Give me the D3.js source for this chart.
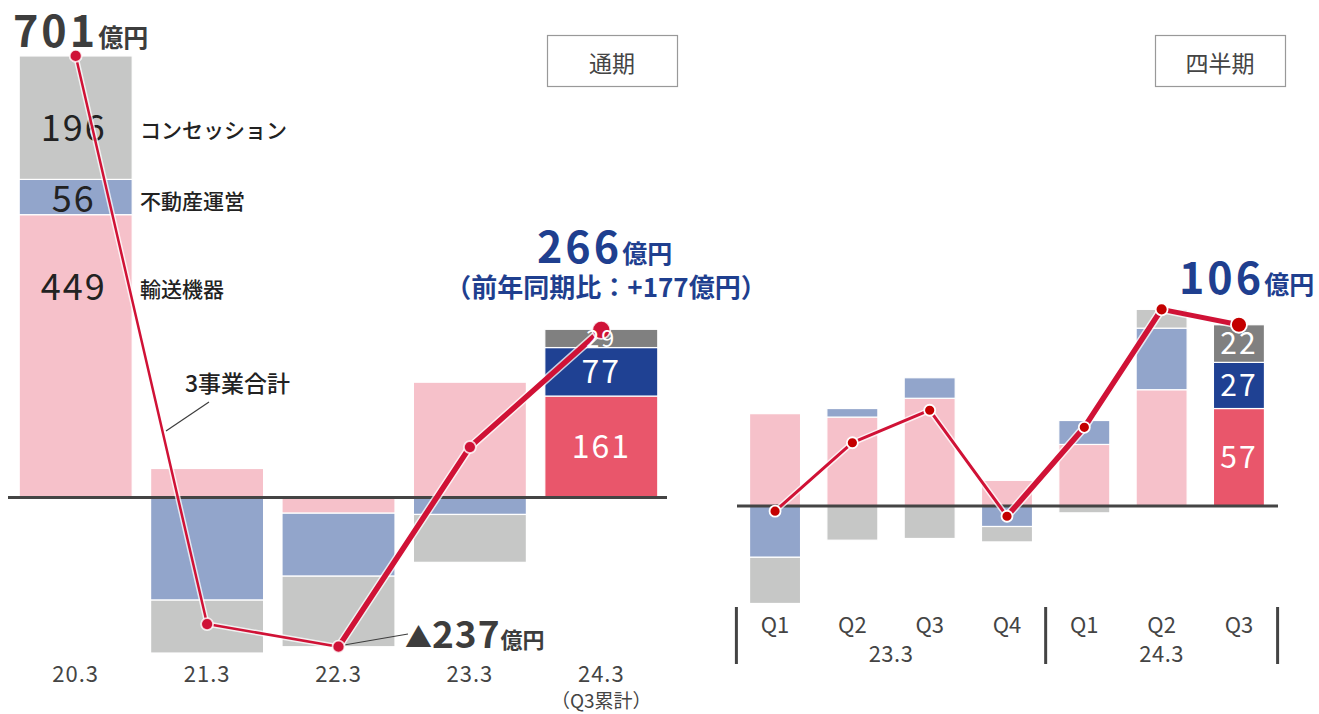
<!DOCTYPE html>
<html>
<head>
<meta charset="utf-8">
<script src="https://cdn.jsdelivr.net/npm/d3@7"></script>
<style>
  body { margin: 0; background: #fff; }
  svg { display: block; }
  text { font-family: "Noto Sans CJK JP", "Noto Sans", sans-serif; }
</style>
</head>
<body>
<svg id="chart" width="1319" height="714"></svg>
<script>
// ---- Annual results (億円) ----
const annualCategories = ["20.3", "21.3", "22.3", "23.3", "24.3"];
const annualTransport   = [449, 46, -25, 183, 161];
const annualRealEstate  = [56, -163, -100, -27, 77];
const annualConcession  = [196, -84, -112, -76, 29];
const annualTotal       = [701, -201, -237, 80, 266];
const priorYearSamePeriod = 89;

// ---- Quarterly results (億円) ----
const quarterCategories = ["23.3 Q1", "23.3 Q2", "23.3 Q3", "23.3 Q4", "24.3 Q1", "24.3 Q2", "24.3 Q3"];
const quarterTickLabels = ["Q1", "Q2", "Q3", "Q4", "Q1", "Q2", "Q3"];
const quarterTransport  = [54, 52, 63, 15, 36, 68, 57];
const quarterRealEstate = [-30, 5, 12, -12, 14, 36, 27];
const quarterConcession = [-27, -20, -19, -9, -4, 11, 22];
const quarterTotal      = [-3, 37, 56, -6, 46, 115, 106];
const fiscalYearLabels  = ["23.3", "24.3"];

const segmentKeys  = ["transport", "realEstate", "concession"];
const segmentNames = ["輸送機器", "不動産運営", "コンセッション"];

const paleColor   = { transport: "#f6c1ca", realEstate: "#92a5cb", concession: "#c6c7c6" };
const strongColor = { transport: "#e9566b", realEstate: "#1f4193", concession: "#808080" };
const lineColor = "#d01236";
const ink = "#3d3d3d";
const navy = "#1f3f8f";

const svg = d3.select("#chart");

function buildRows(cats, t, r, c) {
  return cats.map((cat, i) => ({ cat, transport: t[i], realEstate: r[i], concession: c[i] }));
}

const stack = d3.stack().keys(segmentKeys).offset(d3.stackOffsetDiverging);

function drawBars(g, rows, x, y) {
  const series = stack(rows);
  const last = rows.length - 1;
  g.selectAll("g.series").data(series).join("g").attr("class", "series")
    .each(function (s) {
      d3.select(this).selectAll("rect").data(s).join("rect")
        .attr("x", d => x(d.data.cat))
        .attr("width", x.bandwidth())
        .attr("y", d => y(Math.max(d[0], d[1])))
        .attr("height", d => Math.abs(y(d[0]) - y(d[1])))
        .attr("fill", (d, i) => (i === last ? strongColor : paleColor)[s.key])
        .attr("stroke", "#fff")
        .attr("stroke-width", 1.2);
    });
  return series;
}

// value labels inside a highlighted bar; the font shrinks to fit a short segment
function drawSegmentLabels(g, series, idx, x, y, maxSize) {
  series.forEach(s => {
    const d = s[idx];
    const h = Math.abs(y(d[0]) - y(d[1]));
    const size = Math.min(maxSize, (h - 1) / 0.74);
    g.append("text")
      .attr("x", x(d.data.cat) + x.bandwidth() / 2)
      .attr("y", (y(d[0]) + y(d[1])) / 2)
      .attr("dy", "0.36em").attr("text-anchor", "middle")
      .attr("font-size", size).attr("letter-spacing", 2).attr("fill", "#fff")
      .text(d.data[s.key]);
  });
}

function drawTotalLine(g, cats, totals, x, y, widths, radii, dotFill, dotStroke) {
  const pts = cats.map((c, i) => [x(c) + x.bandwidth() / 2, y(totals[i])]);
  const line = d3.line();
  // soft white halo under the line
  for (let i = 0; i < pts.length - 1; i++) {
    g.append("path").attr("d", line([pts[i], pts[i + 1]]))
      .attr("fill", "none").attr("stroke", "#fff").attr("stroke-opacity", 0.75)
      .attr("stroke-width", widths[i] + 3).attr("stroke-linecap", "round");
  }
  for (let i = 0; i < pts.length - 1; i++) {
    g.append("path").attr("d", line([pts[i], pts[i + 1]]))
      .attr("fill", "none").attr("stroke", lineColor)
      .attr("stroke-width", widths[i]).attr("stroke-linecap", "round");
  }
  g.selectAll("circle.dot").data(pts).join("circle").attr("class", "dot")
    .attr("cx", d => d[0]).attr("cy", d => d[1])
    .attr("r", (d, i) => radii[i])
    .attr("fill", dotFill).attr("stroke", dotStroke).attr("stroke-width", 1.8);
  return pts;
}

// ================= Annual panel =================
const xL = d3.scaleBand().domain(annualCategories).range([10, 667]).paddingInner(0.14).paddingOuter(0.07);
const yL = d3.scaleLinear().domain([-300, 750]).range([686.4, 25.1]);
const gL = svg.append("g");
const annualRows = buildRows(annualCategories, annualTransport, annualRealEstate, annualConcession);
const annualSeries = drawBars(gL, annualRows, xL, yL);

gL.append("line").attr("x1", 8).attr("x2", 667).attr("y1", yL(0)).attr("y2", yL(0))
  .attr("stroke", "#444").attr("stroke-width", 3);

// segment values inside the first bar, with segment names beside it
const firstCx = xL(annualCategories[0]) + xL.bandwidth() / 2 - 2;
const firstLabelY = [300, 212, 141];
segmentKeys.forEach((k, i) => {
  const v = annualRows[0][k];
  gL.append("text").attr("x", firstCx).attr("y", firstLabelY[i])
    .attr("text-anchor", "middle").attr("font-size", 36).attr("letter-spacing", 2)
    .attr("fill", "#222").text(v);
  gL.append("text").attr("x", 140).attr("y", firstLabelY[i] - 3)
    .attr("font-size", 21).attr("font-weight", 500).attr("fill", "#222").text(segmentNames[i]);
});

const lastIdx = annualCategories.length - 1;

const ptsL = drawTotalLine(gL, annualCategories, annualTotal, xL, yL,
  [2.5, 2.5, 5.5, 5.5], [6, 6, 6, 6, 9], "#cf1237", "rgba(255,255,255,0.8)");

drawSegmentLabels(gL, annualSeries, lastIdx, xL, yL, 32);

// category axis
const axL = gL.append("g").attr("transform", "translate(0,666)")
  .call(d3.axisBottom(xL).tickSize(0).tickPadding(0));
axL.select(".domain").remove();
axL.selectAll("text").attr("font-size", 22).attr("letter-spacing", 1).attr("fill", "#444")
  .attr("font-family", "\"Noto Sans CJK JP\", sans-serif");
gL.append("text").attr("x", xL("24.3") + xL.bandwidth() / 2).attr("y", 708)
  .attr("text-anchor", "middle").attr("font-size", 19).attr("fill", "#444").text("（Q3累計）");

// totals annotations
const t701 = gL.append("text").attr("x", 13).attr("y", 47).attr("fill", ink).attr("font-weight", 700);
t701.append("tspan").attr("font-size", 43).attr("letter-spacing", 3).text(annualTotal[0]);
t701.append("tspan").attr("font-size", 25).text("億円");

const t266 = gL.append("text").attr("x", 537).attr("y", 263).attr("fill", navy).attr("font-weight", 700);
t266.append("tspan").attr("font-size", 43).attr("letter-spacing", 3).text(annualTotal[lastIdx]);
t266.append("tspan").attr("font-size", 25).text("億円");
gL.append("text").attr("x", 606).attr("y", 297).attr("text-anchor", "middle")
  .attr("fill", navy).attr("font-weight", 700).attr("font-size", 26)
  .text(`（前年同期比：+${annualTotal[lastIdx] - priorYearSamePeriod}億円）`);

const tMin = gL.append("text").attr("x", 405).attr("y", 648).attr("fill", ink).attr("font-weight", 700);
tMin.append("tspan").attr("font-size", 27).text("▲");
tMin.append("tspan").attr("font-size", 37).attr("letter-spacing", 1).text(Math.abs(annualTotal[2]));
tMin.append("tspan").attr("font-size", 22).text("億円");
gL.append("line").attr("x1", ptsL[2][0] + 7).attr("y1", ptsL[2][1] - 2).attr("x2", 408).attr("y2", 634)
  .attr("stroke", ink).attr("stroke-width", 1.2);

gL.append("text").attr("x", 185).attr("y", 392).attr("font-size", 23).attr("font-weight", 500)
  .attr("fill", "#222").text("3事業合計");
gL.append("line").attr("x1", 166).attr("y1", 431).attr("x2", 209).attr("y2", 402)
  .attr("stroke", ink).attr("stroke-width", 1.2);

// ================= Quarterly panel =================
const xR = d3.scaleBand().domain(quarterCategories).range([736.4, 1277.6]).paddingInner(0.34).paddingOuter(0.17);
const yR = d3.scaleLinear().domain([-60, 130]).range([608.6, 283.7]);
const gR = svg.append("g");
const quarterRows = buildRows(quarterCategories, quarterTransport, quarterRealEstate, quarterConcession);
const quarterSeries = drawBars(gR, quarterRows, xR, yR);

gR.append("line").attr("x1", 737).attr("x2", 1278).attr("y1", yR(0)).attr("y2", yR(0))
  .attr("stroke", "#444").attr("stroke-width", 3);

const qLast = quarterCategories.length - 1;

drawTotalLine(gR, quarterCategories, quarterTotal, xR, yR,
  [3, 3, 3, 5.5, 5.5, 5], [5.5, 5.5, 5.5, 5.5, 5.5, 6, 8], "#c40000", "#fff");

drawSegmentLabels(gR, quarterSeries, qLast, xR, yR, 30);

const axR = gR.append("g").attr("transform", "translate(0,617)")
  .call(d3.axisBottom(xR).tickSize(0).tickPadding(0).tickFormat((d, i) => quarterTickLabels[i]));
axR.select(".domain").remove();
axR.selectAll("text").attr("font-size", 22).attr("fill", "#444")
  .attr("font-family", "\"Noto Sans CJK JP\", sans-serif");

// fiscal-year group labels and separators
const step = xR.step();
const groups = [
  [quarterCategories[0], quarterCategories[3]],
  [quarterCategories[4], quarterCategories[6]]
];
groups.forEach(([a, b], gi) => {
  const left = xR(a) + xR.bandwidth() / 2;
  const right = xR(b) + xR.bandwidth() / 2;
  gR.append("text").attr("x", (left + right) / 2).attr("y", 662)
    .attr("text-anchor", "middle").attr("font-size", 22).attr("letter-spacing", 0.5)
    .attr("fill", "#444").text(fiscalYearLabels[gi]);
});
const sepX = [
  xR(quarterCategories[0]) + xR.bandwidth() / 2 - step / 2,
  xR(quarterCategories[4]) + xR.bandwidth() / 2 - step / 2,
  xR(quarterCategories[6]) + xR.bandwidth() / 2 + step / 2
];
gR.selectAll("line.sep").data(sepX).join("line").attr("class", "sep")
  .attr("x1", d => d).attr("x2", d => d).attr("y1", 607).attr("y2", 664)
  .attr("stroke", "#444").attr("stroke-width", 3);

const t106 = gR.append("text").attr("x", 1179).attr("y", 294).attr("fill", navy).attr("font-weight", 700);
t106.append("tspan").attr("font-size", 43).attr("letter-spacing", 3).text(quarterTotal[qLast]);
t106.append("tspan").attr("font-size", 25).text("億円");

// ================= Panel titles =================
[["通期", 547], ["四半期", 1155]].forEach(([label, x0]) => {
  svg.append("rect").attr("x", x0 + 0.5).attr("y", 35.5).attr("width", 130).attr("height", 51)
    .attr("fill", "none").attr("stroke", "#999").attr("stroke-width", 1.2);
  svg.append("text").attr("x", x0 + 65).attr("y", 72).attr("text-anchor", "middle")
    .attr("font-size", 23).attr("fill", "#444").text(label);
});
</script>
</body>
</html>
